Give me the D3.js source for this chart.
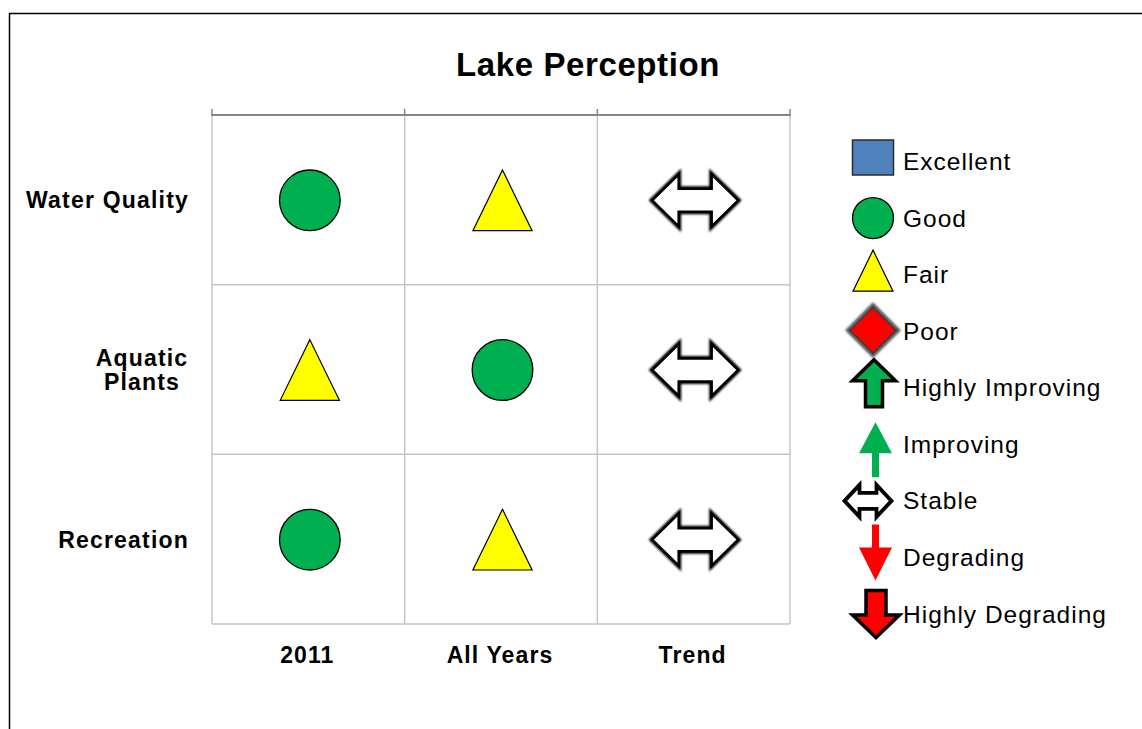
<!DOCTYPE html>
<html>
<head>
<meta charset="utf-8">
<script src="https://cdn.jsdelivr.net/npm/d3@7"></script>
<style>
  html, body { margin: 0; padding: 0; background: #fff; }
  svg { display: block; }
  text { font-family: Arial, "Liberation Sans", sans-serif; fill: #000; }
</style>
</head>
<body>
<svg id="chart" width="1142" height="729"></svg>
<script>
// ---------- data ----------
const columns = ["2011", "All Years", "Trend"];
const aspects = ["Water Quality", "Aquatic Plants", "Recreation"];
const aspectLines = [["Water Quality"], ["Aquatic", "Plants"], ["Recreation"]];
const rating2011 = ["Good", "Fair", "Good"];
const ratingAllYears = ["Fair", "Good", "Fair"];
const ratingTrend = ["Stable", "Stable", "Stable"];
const legendItems = ["Excellent", "Good", "Fair", "Poor", "Highly Improving",
                     "Improving", "Stable", "Degrading", "Highly Degrading"];
const title = "Lake Perception";

// ---------- setup ----------
const svg = d3.select("#chart");
const colors = { blue: "#4f81bd", green: "#00b050", yellow: "#ffff00", red: "#ff0000" };

const defs = svg.append("defs");
defs.append("filter").attr("id", "soft").attr("x", "-20%").attr("y", "-20%")
  .attr("width", "140%").attr("height", "140%")
  .append("feGaussianBlur").attr("stdDeviation", 0.9);

// outer frame
svg.append("path").attr("d", "M9.5,729 L9.5,13.5 L1142,13.5")
  .attr("fill", "none").attr("stroke", "#000").attr("stroke-width", 1.5);

const x = d3.scaleBand().domain(columns).range([212, 790]);
const y = d3.scaleBand().domain(aspects).range([115, 624]);

// title
svg.append("text").attr("x", 588).attr("y", 76).attr("text-anchor", "middle")
  .attr("font-size", 33).attr("font-weight", "bold").attr("letter-spacing", 0.6).text(title);

// ---------- grid ----------
const grid = svg.append("g");
const gridColor = "#c6c6c6";
grid.selectAll("line.v").data(columns.concat(["end"])).join("line")
  .attr("x1", (d, i) => i < columns.length ? x(d) : x.range()[1])
  .attr("x2", (d, i) => i < columns.length ? x(d) : x.range()[1])
  .attr("y1", y.range()[0]).attr("y2", y.range()[1])
  .attr("stroke", gridColor).attr("stroke-width", 1.5);
grid.selectAll("line.h").data(aspects.slice(1).concat(["end"])).join("line")
  .attr("x1", x.range()[0]).attr("x2", x.range()[1])
  .attr("y1", (d, i) => i < aspects.length - 1 ? y(d) : y.range()[1])
  .attr("y2", (d, i) => i < aspects.length - 1 ? y(d) : y.range()[1])
  .attr("stroke", gridColor).attr("stroke-width", 1.5);
grid.append("line").attr("x1", x.range()[0] - 1).attr("x2", x.range()[1] + 1)
  .attr("y1", y.range()[0]).attr("y2", y.range()[0])
  .attr("stroke", "#868686").attr("stroke-width", 2);
grid.selectAll("line.t").data(columns.concat(["end"])).join("line")
  .attr("x1", (d, i) => i < columns.length ? x(d) : x.range()[1])
  .attr("x2", (d, i) => i < columns.length ? x(d) : x.range()[1])
  .attr("y1", y.range()[0] - 6).attr("y2", y.range()[0])
  .attr("stroke", "#868686").attr("stroke-width", 1.5);

// ---------- labels ----------
svg.selectAll("text.col").data(columns).join("text")
  .attr("x", d => x(d) + x.bandwidth() / 2 - 1).attr("y", 663)
  .attr("text-anchor", "middle").attr("font-size", 23).attr("font-weight", "bold")
  .attr("letter-spacing", 1.1).text(d => d);

aspects.forEach((a, i) => {
  const lines = aspectLines[i];
  const cy = y(a) + y.bandwidth() / 2;
  const lh = 24;
  const t = svg.append("text").attr("font-size", 23).attr("font-weight", "bold")
    .attr("letter-spacing", 1.2)
    .attr("text-anchor", lines.length > 1 ? "middle" : "end");
  lines.forEach((ln, j) => {
    t.append("tspan")
      .attr("x", lines.length > 1 ? 142 : 189)
      .attr("y", cy + 8.5 + (j - (lines.length - 1) / 2) * lh)
      .text(ln);
  });
});

// ---------- symbol shapes ----------
function arrowUp(tip, base, bottom, head, shaft) {
  return `M0,${tip} L${head},${base} L${shaft},${base} L${shaft},${bottom} L${-shaft},${bottom} L${-shaft},${base} L${-head},${base} Z`;
}
function arrowDown(top, base, tip, head, shaft) {
  return `M${-shaft},${top} L${shaft},${top} L${shaft},${base} L${head},${base} L0,${tip} L${-head},${base} L${-shaft},${base} Z`;
}
function doubleArrow(hw, hh, sh, hb) {
  return `M${-hw},0 L${-hb},${-hh} L${-hb},${-sh} L${hb},${-sh} L${hb},${-hh} L${hw},0 L${hb},${hh} L${hb},${sh} L${-hb},${sh} L${-hb},${hh} Z`;
}

function drawSymbol(g, kind, big) {
  const k = big ? 1.48 : 1;
  switch (kind) {
    case "Excellent":
      g.append("rect").attr("x", -20.5).attr("y", -21.5).attr("width", 41).attr("height", 35)
        .attr("fill", colors.blue).attr("stroke", "#2b2b2b").attr("stroke-width", 1.5);
      break;
    case "Good":
      g.append("circle").attr("r", 20.5 * k).attr("fill", colors.green)
        .attr("stroke", "#000").attr("stroke-width", 1.3);
      break;
    case "Fair": {
      const h = 20.5 * k, w = 20 * k, dy = big ? 0 : -4;
      g.append("path").attr("d", `M0,${-h + dy} L${w},${h + dy} L${-w},${h + dy} Z`)
        .attr("fill", colors.yellow).attr("stroke", "#000").attr("stroke-width", 1.2)
        .attr("stroke-linejoin", "miter");
      break;
    }
    case "Poor":
      g.append("path").attr("d", "M0,-25 L25,0 L0,25 L-25,0 Z").attr("transform", "translate(0,-1)")
        .attr("fill", "none").attr("stroke", "#555").attr("stroke-width", 4).attr("filter", "url(#soft)");
      g.append("path").attr("d", "M0,-23 L23,0 L0,23 L-23,0 Z").attr("transform", "translate(0,-1)")
        .attr("fill", colors.red).attr("stroke", "#3a3a3a").attr("stroke-width", 1.5);
      break;
    case "Highly Improving":
      g.append("path").attr("d", arrowUp(-28, -7, 19, 21.5, 8.5))
        .attr("transform", "translate(1,0)")
        .attr("fill", colors.green).attr("stroke", "#000").attr("stroke-width", 3.5)
        .attr("stroke-linejoin", "miter");
      break;
    case "Improving":
      g.append("path").attr("d", arrowUp(-22, 9, 33, 16.5, 3.5))
        .attr("transform", "translate(2.5,0)").attr("fill", colors.green);
      break;
    case "Stable":
      if (big) {
        g.append("path").attr("d", doubleArrow(43, 26, 11.5, 16.5))
          .attr("fill", "#fff").attr("stroke", "#000").attr("stroke-width", 5)
          .attr("stroke-linejoin", "miter").attr("filter", "url(#soft)");
        g.append("path").attr("d", doubleArrow(43, 26, 11.5, 16.5))
          .attr("fill", "#fff").attr("stroke", "#000").attr("stroke-width", 2.5)
          .attr("stroke-linejoin", "miter");
      } else {
        g.append("path").attr("d", doubleArrow(23.5, 16, 8, 8.5))
          .attr("transform", "translate(-5,0)")
          .attr("fill", "#fff").attr("stroke", "#000").attr("stroke-width", 3.8)
          .attr("stroke-linejoin", "miter");
      }
      break;
    case "Degrading":
      g.append("path").attr("d", arrowDown(-33, -10, 23, 16.5, 3.5))
        .attr("transform", "translate(2.5,0)").attr("fill", colors.red);
      break;
    case "Highly Degrading":
      g.append("path").attr("d", arrowDown(-23.5, 1, 23.5, 23.5, 10))
        .attr("transform", "translate(3,0)")
        .attr("fill", colors.red).attr("stroke", "#000").attr("stroke-width", 3.5)
        .attr("stroke-linejoin", "miter");
      break;
  }
}

// ---------- cells ----------
const ratingsByColumn = [rating2011, ratingAllYears, ratingTrend];
const cells = [];
columns.forEach((c, ci) => aspects.forEach((a, ri) => cells.push({ col: c, row: a, kind: ratingsByColumn[ci][ri] })));

svg.append("g").selectAll("g").data(cells).join("g")
  .attr("transform", d => `translate(${x(d.col) + x.bandwidth() / 2 + 1.5},${y(d.row) + y.bandwidth() / 2 + 0.5})`)
  .each(function (d) { drawSymbol(d3.select(this), d.kind, true); });

// ---------- legend ----------
const ly = d3.scalePoint().domain(legendItems).range([161.5, 614]);
const legend = svg.append("g").selectAll("g").data(legendItems).join("g")
  .attr("transform", d => `translate(873,${ly(d)})`);
legend.each(function (d) { drawSymbol(d3.select(this), d, false); });
legend.append("text").attr("x", 30).attr("y", 0).attr("dy", "0.35em")
  .attr("font-size", 24.5).attr("letter-spacing", 1.0).text(d => d);
</script>
</body>
</html>
